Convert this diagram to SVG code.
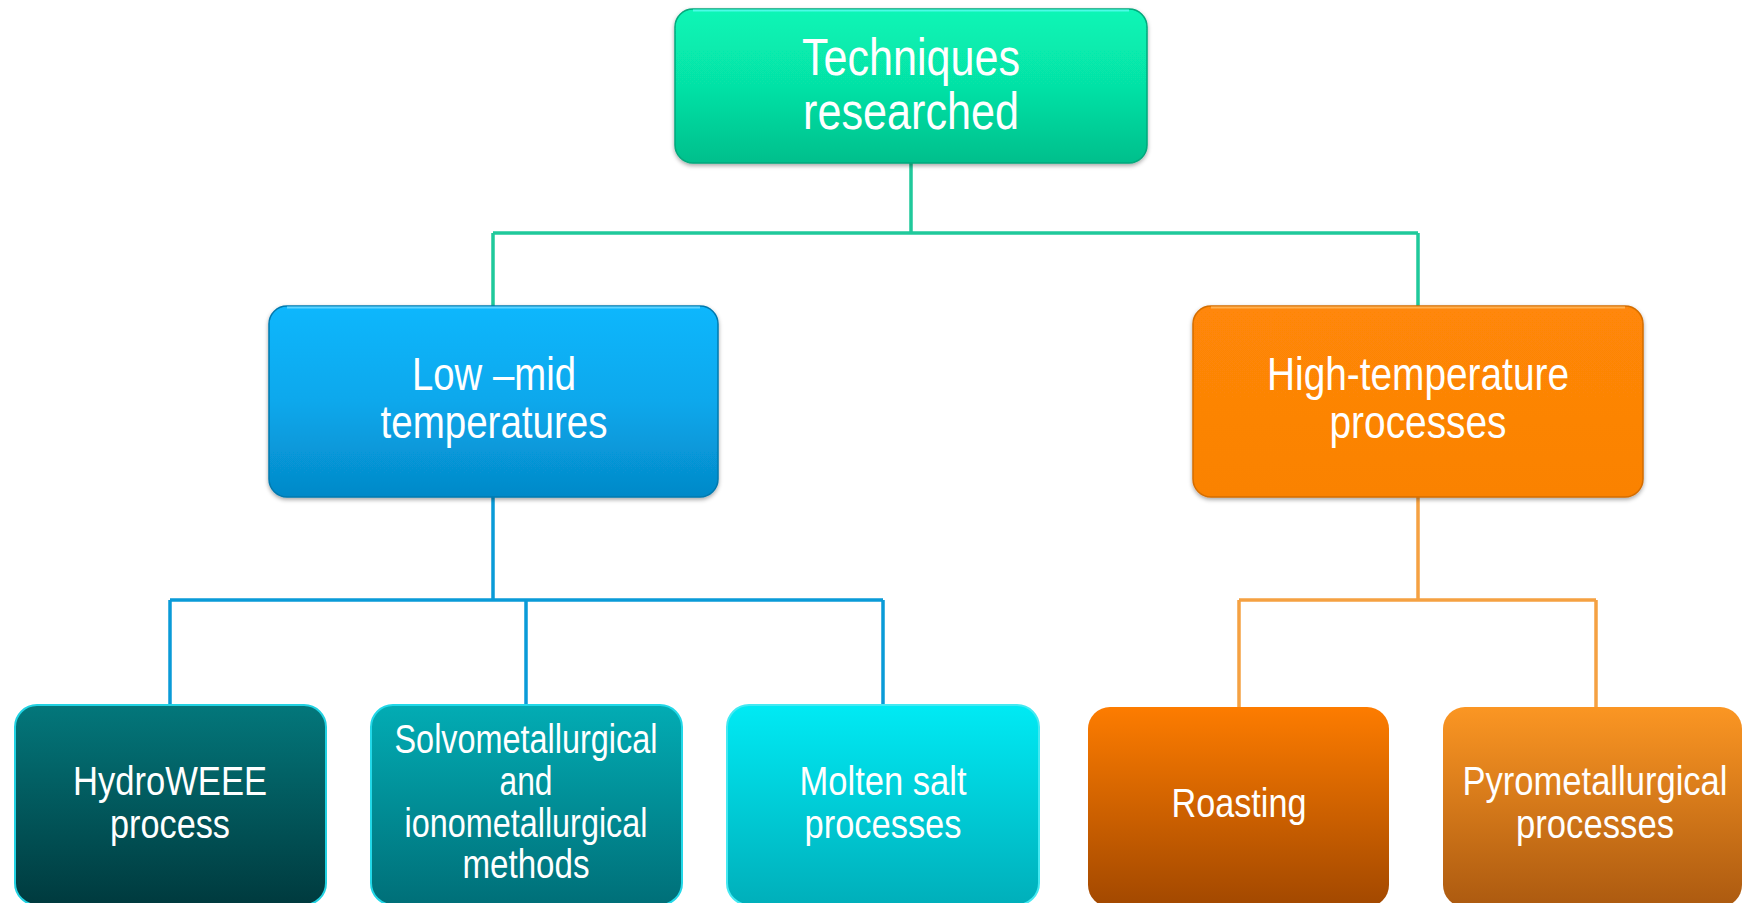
<svg xmlns="http://www.w3.org/2000/svg" width="1744" height="903" viewBox="0 0 1744 903">
<defs>
<linearGradient id="gTop" x1="0" y1="0" x2="0" y2="1"><stop offset="0" stop-color="#08F6B6"/><stop offset="0.5" stop-color="#06E2A6"/><stop offset="1" stop-color="#05BF8C"/></linearGradient>
<linearGradient id="gLow" x1="0" y1="0" x2="0" y2="1"><stop offset="0" stop-color="#0BB7FD"/><stop offset="0.5" stop-color="#09A8EC"/><stop offset="1" stop-color="#0589C8"/></linearGradient>
<linearGradient id="gHigh" x1="0" y1="0" x2="0" y2="1"><stop offset="0" stop-color="#FF8707"/><stop offset="1" stop-color="#FA8205"/></linearGradient>
<linearGradient id="gHydro" x1="0" y1="0" x2="0" y2="1"><stop offset="0" stop-color="#03777B"/><stop offset="1" stop-color="#003A3E"/></linearGradient>
<linearGradient id="gSolvo" x1="0" y1="0" x2="0" y2="1"><stop offset="0" stop-color="#02ACB4"/><stop offset="1" stop-color="#006F78"/></linearGradient>
<linearGradient id="gMolten" x1="0" y1="0" x2="0" y2="1"><stop offset="0" stop-color="#00EAF4"/><stop offset="1" stop-color="#00AFBA"/></linearGradient>
<linearGradient id="gRoast" x1="0" y1="0" x2="0" y2="1"><stop offset="0" stop-color="#FD7C00"/><stop offset="1" stop-color="#A24800"/></linearGradient>
<linearGradient id="gPyro" x1="0" y1="0" x2="0" y2="1"><stop offset="0" stop-color="#FB9623"/><stop offset="1" stop-color="#AC5A10"/></linearGradient>
<filter id="sh" x="-5%" y="-5%" width="110%" height="115%"><feDropShadow dx="0" dy="2" stdDeviation="2" flood-color="#000" flood-opacity="0.35"/></filter>
</defs>
<style>
text{font-family:"Liberation Sans",Arial,sans-serif;fill:#fff;text-anchor:middle}
.t1{font-size:52px}
.t2{font-size:46px}
.t3{font-size:40px}
.c{fill:none;stroke-width:3.5}
</style>
<g id="connectors">
<path class="c" stroke="#1FC99B" d="M911,163V233M493,233H1418M493,233V306M1418,233V306"/>
<path class="c" stroke="#0A9BD8" d="M493,497V600M170,600H883M170,600V705M526,600V705M883,600V705"/>
<path class="c" stroke="#F5A142" d="M1418,497V600M1239,600H1596M1239,600V707M1596,600V707"/>
</g>
<g id="node-top">
<rect x="675" y="9" width="472" height="154" rx="18" fill="url(#gTop)" stroke="#07A87C" stroke-width="1.5" filter="url(#sh)"/>
<path d="M693,10.5H1129" stroke="#4DFBE6" stroke-width="2"/>
<text class="t1" x="911" y="75" textLength="218" lengthAdjust="spacingAndGlyphs">Techniques</text>
<text class="t1" x="911" y="129" textLength="216" lengthAdjust="spacingAndGlyphs">researched</text>
</g>
<g id="node-low">
<rect x="269" y="306" width="449" height="191" rx="18" fill="url(#gLow)" stroke="#0679AE" stroke-width="1.5" filter="url(#sh)"/>
<path d="M287,307.5H700" stroke="#5FD3FF" stroke-width="2"/>
<text class="t2" x="494" y="390" textLength="164" lengthAdjust="spacingAndGlyphs">Low –mid</text>
<text class="t2" x="494" y="438" textLength="227" lengthAdjust="spacingAndGlyphs">temperatures</text>
</g>
<g id="node-high">
<rect x="1193" y="306" width="450" height="191" rx="18" fill="url(#gHigh)" stroke="#D46D05" stroke-width="1.5" filter="url(#sh)"/>
<path d="M1211,307.5H1625" stroke="#FFB050" stroke-width="2"/>
<text class="t2" x="1418" y="390" textLength="302" lengthAdjust="spacingAndGlyphs">High-temperature</text>
<text class="t2" x="1418" y="438" textLength="177" lengthAdjust="spacingAndGlyphs">processes</text>
</g>
<g id="node-hydro">
<rect x="15" y="705" width="311" height="200" rx="22" fill="url(#gHydro)" stroke="#22D2E2" stroke-width="2"/>
<text class="t3" x="170" y="795" textLength="194" lengthAdjust="spacingAndGlyphs">HydroWEEE</text>
<text class="t3" x="170" y="838" textLength="120" lengthAdjust="spacingAndGlyphs">process</text>
</g>
<g id="node-solvo">
<rect x="371" y="705" width="311" height="200" rx="22" fill="url(#gSolvo)" stroke="#22D8E8" stroke-width="2"/>
<text class="t3" x="526" y="753" textLength="263" lengthAdjust="spacingAndGlyphs">Solvometallurgical</text>
<text class="t3" x="526" y="795" textLength="53" lengthAdjust="spacingAndGlyphs">and</text>
<text class="t3" x="526" y="837" textLength="243" lengthAdjust="spacingAndGlyphs">ionometallurgical</text>
<text class="t3" x="526" y="878" textLength="127" lengthAdjust="spacingAndGlyphs">methods</text>
</g>
<g id="node-molten">
<rect x="727" y="705" width="312" height="200" rx="22" fill="url(#gMolten)" stroke="#44E9F2" stroke-width="2"/>
<text class="t3" x="883" y="795" textLength="167" lengthAdjust="spacingAndGlyphs">Molten salt</text>
<text class="t3" x="883" y="838" textLength="157" lengthAdjust="spacingAndGlyphs">processes</text>
</g>
<g id="node-roast">
<rect x="1088" y="707" width="301" height="200" rx="22" fill="url(#gRoast)"/>
<text class="t3" x="1239" y="817" textLength="135" lengthAdjust="spacingAndGlyphs">Roasting</text>
</g>
<g id="node-pyro">
<rect x="1443" y="707" width="299" height="200" rx="22" fill="url(#gPyro)"/>
<text class="t3" x="1595" y="795" textLength="265" lengthAdjust="spacingAndGlyphs">Pyrometallurgical</text>
<text class="t3" x="1595" y="838" textLength="158" lengthAdjust="spacingAndGlyphs">processes</text>
</g>
</svg>
